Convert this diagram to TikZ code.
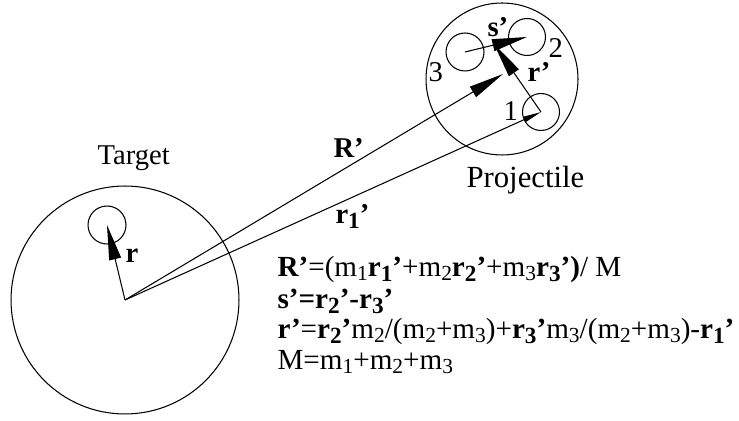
\documentclass[tikz,border=0pt]{standalone}
\usepackage{fontspec}
\setmainfont{Liberation Serif}
\usetikzlibrary{arrows.meta}
\newcommand{\nsub}[1]{\raisebox{-0.12em}[\height][0pt]{\fontsize{12.2}{12.2}\selectfont #1}}
\newcommand{\bsub}[1]{\raisebox{-0.15em}[\height][0pt]{\fontsize{13.2}{13.2}\selectfont\bfseries #1}}

\begin{document}
\begin{tikzpicture}[x=0.02cm,y=-0.02cm,line width=0.6pt,every node/.style={font=\fontsize{16.3}{17.4}\selectfont},txt/.style={inner sep=0pt,anchor=base west},eqn/.style={txt,font=\fontsize{16.6}{17.4}\selectfont},ring/.style={draw,circle,inner sep=0pt,minimum size=#1},big/.style={-{Triangle[length=0.7cm,width=0.24cm]}},small/.style={-{Triangle[length=0.36cm,width=0.11cm]}}]
\useasboundingbox (0,0) rectangle (739,421);

% target and projectile
\node[ring=4.56cm] (target) at (125,300) {};\node[ring=0.76cm] (tin) at (107,225) {};
\node[ring=3.04cm] (proj) at (502,79) {};
\node[ring=0.74cm] (c1) at (541,112) {};\node[ring=0.74cm] (c2) at (527,37) {};\node[ring=0.76cm] (c3) at (465,52) {};
\coordinate (cm23) at (494,44);\coordinate (cmall) at (503,74);

% vectors
\draw[big] (target.center)--(tin.center);\draw[big] (target.center)--(cmall);\draw[small] (target.center)--(c1.center);
\draw[big] (c1.center)--(cm23);\draw[big] (c3.center)--(c2.center);

% labels
\node[txt] (tlab) at (97,165) {Target};\node[txt] (plab) at (466,188) {\fontsize{17.5}{18}\selectfont Projectile};
\node[txt] (rlab) at (125,263) {\textbf{r}};\node[txt] (Rlab) at (333,158) {\textbf{R’}};\node[txt] (r1lab) at (335,224) {\textbf{r\bsub{1}’}};
\node[txt] (slab) at (487,37) {\textbf{s’}};\node[txt] (rplab) at (527,82) {\textbf{r’}};
\node[txt] (n3) at (428,82) {3};\node[txt] (n2) at (548,58) {2};\node[txt] (n1) at (503,121) {1};

% relations
\node[eqn] (eq1) at (277,277) {\textbf{R’}=(m\nsub{1}\textbf{r\bsub{1}’}+m\nsub{2}\textbf{r\bsub{2}’}+m\nsub{3}\textbf{r\bsub{3}’)}/ M};
\node[eqn] (eq2) at (277,309) {\textbf{s’=r\bsub{2}’-r\bsub{3}’}};
\node[eqn] (eq3) at (277,339) {\textbf{r’}=\textbf{r\bsub{2}’}m\nsub{2}/(m\nsub{2}+m\nsub{3})+\textbf{r\bsub{3}’}m\nsub{3}/(m\nsub{2}+m\nsub{3})-\textbf{r\bsub{1}’}};
\node[eqn] (eq4) at (277,370) {M=m\nsub{1}+m\nsub{2}+m\nsub{3}};
\end{tikzpicture}
\end{document}
